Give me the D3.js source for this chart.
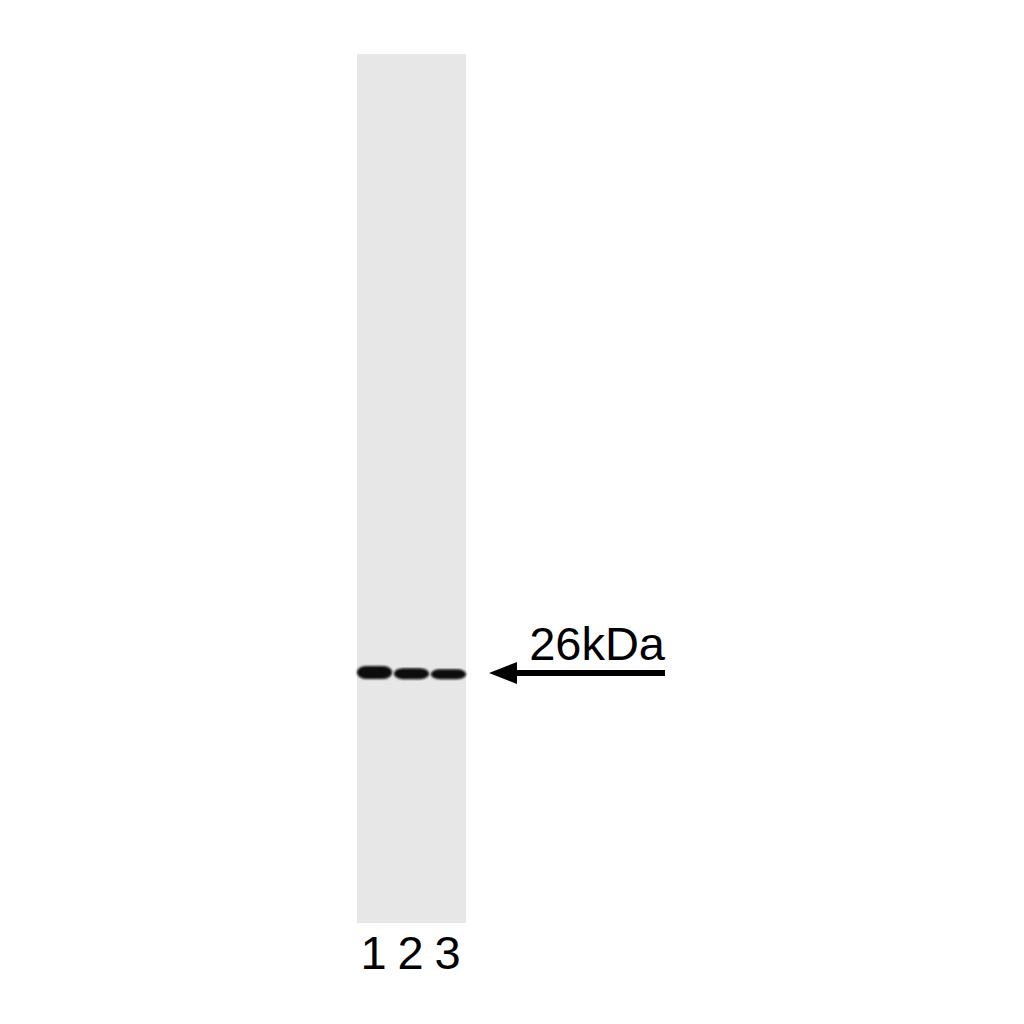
<!DOCTYPE html>
<html>
<head>
<meta charset="utf-8">
<script src="https://cdn.jsdelivr.net/npm/d3@7"></script>
<style>
  body { margin: 0; background: #fff; }
  svg { display: block; font-family: "Liberation Sans", Arial, sans-serif; }
</style>
</head>
<body>
<svg id="chart"></svg>
<script>
const lanes = ['1', '2', '3']
const bandThickness = [13, 11, 10]  // band height in px at this scale
const bandShift = [0, 1.2, 1.8]     // slight downward drift of the band per lane (px)
const markerKDa = 26
const markerLabel = '26kDa'

const w = 1024
const h = 1024
const svg = d3.select('#chart')
    .attr('width', w)
    .attr('height', h)

// gel area
const gel = { x0: 357, x1: 466, y0: 54, y1: 923 }

// lane scale
const xScale = d3.scaleBand()
    .domain(lanes)
    .range([gel.x0, gel.x1])
    .paddingInner(0.05)
    .paddingOuter(0.0)

// log molecular weight scale (only the 26kDa marker is shown)
const yScale = d3.scaleLog()
    .domain([275, 10])
    .range([gel.y0, gel.y1])

const defs = svg.append('defs')
defs.append('filter').attr('id', 'blur')
    .append('feGaussianBlur').attr('stdDeviation', 0.8)

svg.append('rect')
    .attr('x', gel.x0)
    .attr('y', gel.y0)
    .attr('width', gel.x1 - gel.x0)
    .attr('height', gel.y1 - gel.y0)
    .attr('fill', '#e7e7e7')

// bands
const bandY = yScale(markerKDa)
svg.selectAll('.band')
    .data(lanes)
    .join('rect')
        .attr('class', 'band')
        .attr('x', d => xScale(d))
        .attr('y', (d, i) => bandY + bandShift[i] - bandThickness[i] / 2)
        .attr('width', xScale.bandwidth())
        .attr('height', (d, i) => bandThickness[i])
        .attr('rx', 9)
        .attr('ry', (d, i) => bandThickness[i] / 2)
        .attr('fill', '#080808')
        .attr('filter', 'url(#blur)')

// lane labels
svg.selectAll('.lane-label')
    .data(lanes)
    .join('text')
        .attr('class', 'lane-label')
        .attr('x', d => xScale(d) + xScale.bandwidth() / 2 - 1)
        .attr('y', 969)
        .attr('text-anchor', 'middle')
        .attr('font-size', 47)
        .attr('fill', '#000')
        .text(d => d)

// marker arrow
const arrowY = bandY + 0.5
svg.append('line')
    .attr('x1', 512)
    .attr('x2', 665)
    .attr('y1', arrowY)
    .attr('y2', arrowY)
    .attr('stroke', '#000')
    .attr('stroke-width', 6)
svg.append('path')
    .attr('d', `M489,${arrowY} L517,${arrowY - 11} L517,${arrowY + 11} Z`)
    .attr('fill', '#000')

svg.append('text')
    .attr('x', 665)
    .attr('y', 660)
    .attr('text-anchor', 'end')
    .attr('font-size', 47)
    .attr('fill', '#000')
    .text(markerLabel)
</script>
</body>
</html>
